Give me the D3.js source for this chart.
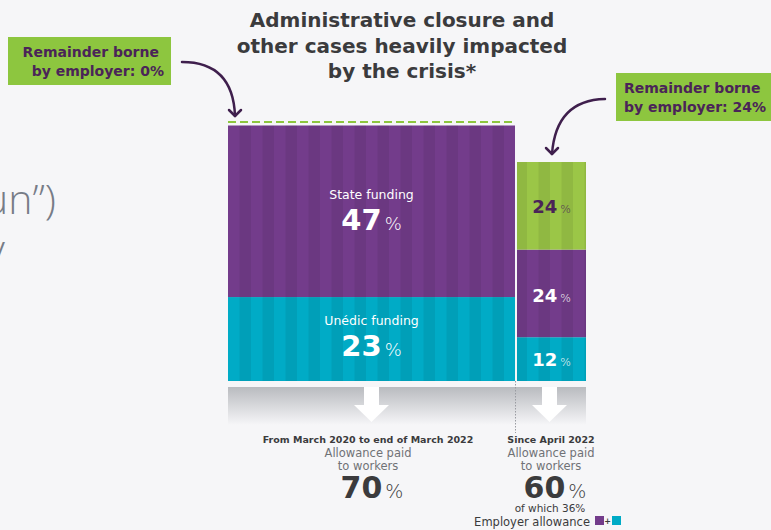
<!DOCTYPE html>
<html><head><meta charset="utf-8">
<script src="https://cdn.jsdelivr.net/npm/d3@7"></script>
<style>
html,body{margin:0;padding:0;background:#f6f6f8;}
svg{display:block;font-family:"DejaVu Sans",sans-serif;}
</style></head>
<body>
<svg id="c" width="771" height="530"></svg>
<script>
// ---- data ----
const periods = ["From March 2020 to end of March 2022", "Since April 2022"];
const unedicFunding = [23, 12];
const stateFunding = [47, 24];
const employerRemainder = [0, 24];
const allowancePaid = [70, 60];
const employerAllowanceShare = [null, 36];
const segmentNames = ["Unédic funding", "State funding", "Remainder borne by employer"];
const titleLines = ["Administrative closure and", "other cases heavily impacted", "by the crisis*"];

const colors = {unedic:"#00abc6", state:"#733c8b", employer:"#9bc647"};
const svg = d3.select("#c");
const defs = svg.append("defs");

// stripes pattern
const pat = defs.append("pattern").attr("id","stripes").attr("patternUnits","userSpaceOnUse")
  .attr("x",228).attr("y",0).attr("width",23).attr("height",10);
pat.append("rect").attr("x",11.5).attr("y",0).attr("width",11.5).attr("height",10).attr("fill","#000").attr("opacity",0.07);

const grad = defs.append("linearGradient").attr("id","band").attr("x1",0).attr("x2",0).attr("y1",0).attr("y2",1);
grad.append("stop").attr("offset","0%").attr("stop-color","#b9bbbf");
grad.append("stop").attr("offset","100%").attr("stop-color","#f6f6f8");

// ---- scales ----
const y = d3.scaleLinear().domain([0, 70]).range([381, 125.5]);
const xRange = d3.scaleOrdinal().domain(periods).range([[228, 515], [517, 586]]);
const xc = p => (xRange(p)[0] + xRange(p)[1]) / 2;

// rows for stack
const rows = periods.map((p,i) => ({period:p, unedic:unedicFunding[i], state:stateFunding[i], employer:employerRemainder[i]}));
const stack = d3.stack().keys(["unedic","state","employer"])(rows);

// left-over text fragments of neighbouring slide
svg.append("text").attr("x",-16).attr("y",214).attr("font-size",41).attr("font-weight",300)
  .attr("fill","#777c87").attr("font-family","'Open Sans',sans-serif").text("un”)");
svg.append("text").attr("x",-14).attr("y",264).attr("font-size",41).attr("font-weight",300)
  .attr("fill","#777c87").attr("font-family","'Open Sans',sans-serif").text("y");

// gray band with arrows below bars
svg.append("rect").attr("x",228).attr("y",387).attr("width",358).attr("height",38).attr("fill","url(#band)");
periods.forEach(p => {
  const cx = xc(p) + (p===periods[0] ? 0 : -2);
  svg.append("path").attr("fill","#ffffff")
    .attr("d",`M${cx-7.5},387 H${cx+7.5} V405 H${cx+17.5} L${cx},422 L${cx-17.5},405 H${cx-7.5} Z`);
});
// dotted separator
svg.append("line").attr("x1",515.5).attr("x2",515.5).attr("y1",381).attr("y2",433)
  .attr("stroke","#9a9ca2").attr("stroke-width",1).attr("stroke-dasharray","1.5,1.5");

// bars
const segColor = {unedic:colors.unedic, state:colors.state, employer:colors.employer};
stack.forEach(layer => {
  layer.forEach(d => {
    const p = d.data.period;
    const [x0,x1] = xRange(p);
    const h = y(d[0]) - y(d[1]);
    if (h <= 0) return;
    svg.append("rect").attr("x",x0).attr("y",y(d[1])).attr("width",x1-x0).attr("height",h).attr("fill",segColor[layer.key]);
    svg.append("rect").attr("x",x0).attr("y",y(d[1])).attr("width",x1-x0).attr("height",h).attr("fill","url(#stripes)");
  });
});

// dashed line at 0% remainder top of left bar
svg.append("line").attr("x1",228).attr("x2",515).attr("y1",y(70)-3.5).attr("y2",y(70)-3.5)
  .attr("stroke","#8dc63f").attr("stroke-width",2).attr("stroke-dasharray","8,4");

// segment labels
function pctLabel(x, yy, val, size, color, nameText){
  const g = svg.append("g");
  if (nameText){
    g.append("text").attr("x",x).attr("y",yy - size - 2).attr("text-anchor","middle")
      .attr("font-size",12.5).attr("font-weight",500).attr("fill","#ffffff").text(nameText);
  }
  const t = g.append("text").attr("x",x).attr("y",yy).attr("text-anchor","middle").attr("fill",color);
  t.append("tspan").attr("font-size",size).attr("font-weight",900).text(val);
  t.append("tspan").attr("font-size",size*0.62).attr("font-weight",300).attr("dx",3).text("%");
}
// left bar
pctLabel(xc(periods[0]), 230, stateFunding[0], 29, "#ffffff", "State funding");
pctLabel(xc(periods[0]), 356, unedicFunding[0], 29, "#ffffff", "Unédic funding");
// right bar
pctLabel(xc(periods[1]), 213, employerRemainder[1], 18, "#4a2458");
pctLabel(xc(periods[1]), 302, stateFunding[1], 18, "#ffffff");
pctLabel(xc(periods[1]), 366, unedicFunding[1], 18, "#ffffff");

// title
const title = svg.append("text").attr("text-anchor","middle").attr("fill","#3b3b3d")
  .attr("font-size",20).attr("font-weight",700);
titleLines.forEach((l,i) => title.append("tspan").attr("x",402).attr("y",27 + i*25.5).text(l));

// callouts
const calloutColor = "#4a2458";
svg.append("rect").attr("x",8).attr("y",37).attr("width",163).attr("height",48).attr("fill","#8dc63f");
const c1 = svg.append("text").attr("text-anchor","end").attr("fill",calloutColor).attr("font-size",14).attr("font-weight",700);
c1.append("tspan").attr("x",159).attr("y",57).text("Remainder borne");
c1.append("tspan").attr("x",164).attr("y",76).text(`by employer: ${employerRemainder[0]}%`);

svg.append("rect").attr("x",616).attr("y",73).attr("width",160).attr("height",48).attr("fill","#8dc63f");
const c2 = svg.append("text").attr("text-anchor","start").attr("fill",calloutColor).attr("font-size",14).attr("font-weight",700);
c2.append("tspan").attr("x",624).attr("y",93).text("Remainder borne");
c2.append("tspan").attr("x",624).attr("y",112).text(`by employer: ${employerRemainder[1]}%`);

// curved arrows
function arrow(d, tipX, tipY){
  svg.append("path").attr("d",d).attr("fill","none").attr("stroke","#3f1f4d").attr("stroke-width",2.5).attr("stroke-linecap","round");
  svg.append("path").attr("d",`M${tipX-6},${tipY-6} L${tipX},${tipY} L${tipX+6},${tipY-6}`)
    .attr("fill","none").attr("stroke","#3f1f4d").attr("stroke-width",2.5).attr("stroke-linecap","round").attr("stroke-linejoin","round");
}
arrow("M182,62 Q233,62 235,116", 235, 116);
arrow("M605,99 Q556,100 552,154", 552, 154);

// bottom texts
const bottom = [
  {x: 368, idx:0},
  {x: 551, idx:1}
];
bottom.forEach(b => {
  const i = b.idx;
  svg.append("text").attr("x",b.x).attr("y",443).attr("text-anchor","middle").attr("font-size",9.5)
    .attr("font-weight",700).attr("fill","#3b3b3d").text(periods[i]);
  const t = svg.append("text").attr("text-anchor","middle").attr("font-size",11.5).attr("fill","#707276");
  t.append("tspan").attr("x",b.x).attr("y",457).text("Allowance paid");
  t.append("tspan").attr("x",b.x).attr("y",470).text("to workers");
  const v = svg.append("text").attr("x",b.x+4).attr("y",498).attr("text-anchor","middle").attr("fill","#3b3b3d");
  v.append("tspan").attr("font-size",30).attr("font-weight",900).text(allowancePaid[i]);
  v.append("tspan").attr("font-size",19).attr("font-weight",300).attr("dx",3).text("%");
});
svg.append("text").attr("x",550).attr("y",512).attr("text-anchor","middle").attr("font-size",10.5).attr("fill","#3b3b3d")
  .text(`of which ${employerAllowanceShare[1]}%`);
svg.append("text").attr("x",590).attr("y",525.5).attr("text-anchor","end").attr("font-size",11.5).attr("fill","#3b3b3d")
  .text("Employer allowance");
svg.append("rect").attr("x",595).attr("y",516).attr("width",9).attr("height",9).attr("fill",colors.state);
svg.append("text").attr("x",607.5).attr("y",524).attr("text-anchor","middle").attr("font-size",8).attr("font-weight",700).attr("fill","#3b3b3d").text("+");
svg.append("rect").attr("x",612).attr("y",516).attr("width",9).attr("height",9).attr("fill",colors.unedic);
</script>
</body></html>
